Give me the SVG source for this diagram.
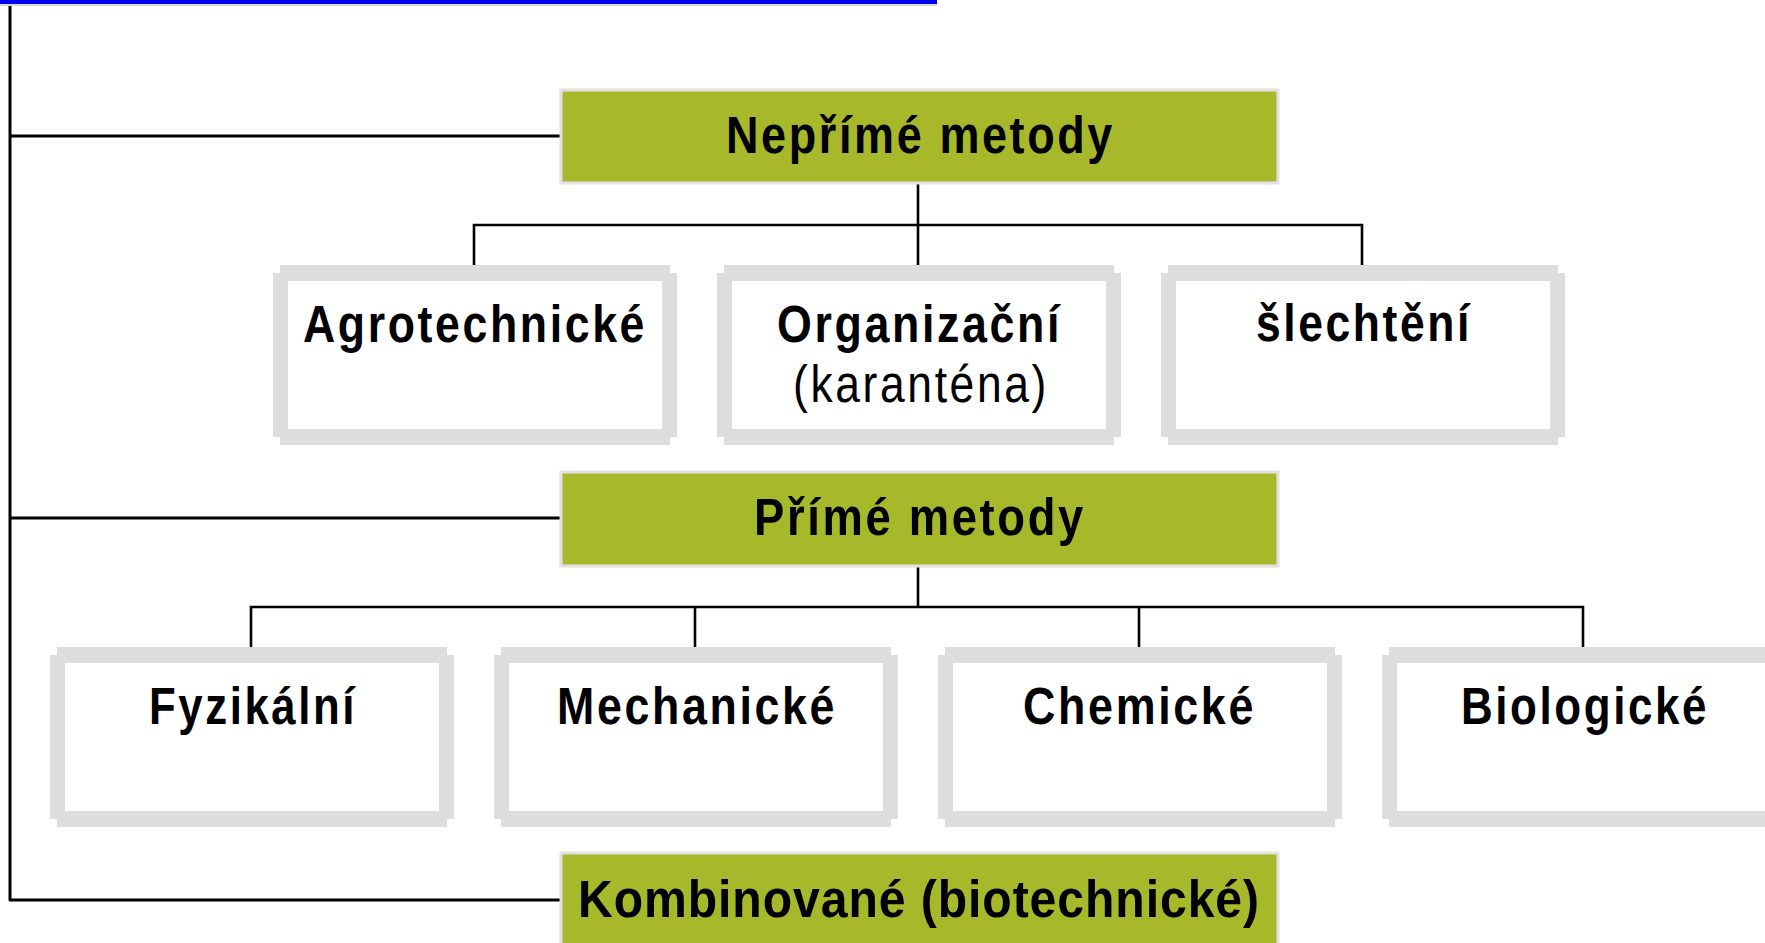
<svg xmlns="http://www.w3.org/2000/svg" xmlns:xlink="http://www.w3.org/1999/xlink" width="1765" height="943" viewBox="0 0 1765 943">
  <style>
    .bus { stroke: #000; stroke-width: 3; fill: none; stroke-linejoin: round; }
    .tree { stroke: #000; stroke-width: 2.6; fill: none; }
    .head { fill: #A7B82A; stroke: #E2E2E2; stroke-width: 3; }
    .frame { fill: #DDDDDD; fill-rule: evenodd; }
    .inner { fill: #FFFFFF; }
    .t { font-family: "Liberation Sans Narrow", "Liberation Sans", Arial, sans-serif; font-size: 51px; fill: #000; letter-spacing: 3px; }
    .b { font-weight: bold; }
    .k { letter-spacing: 1px; }
  </style>
  <defs>
    <path id="frame" class="frame" d="M7,0 H397 V8 H404 V172 H397 V180 H7 V172 H0 V8 H7 Z M15,16 V164 H389 V16 Z"/>
  </defs>
  <rect x="0" y="0" width="937" height="4" fill="#0000F0"/>
  <rect x="0" y="4" width="937" height="2" fill="#D8D8E8"/>

  <g id="connectors">
    <path class="bus" d="M10,6 V900 H561"/>
    <path class="bus" d="M10,136 H561"/>
    <path class="bus" d="M10,518 H561"/>
    <path class="tree" d="M918,183 V225 M474,265 V225 H1362 V265 M918,225 V265"/>
    <path class="tree" d="M918,566 V607 M251,647 V607 H1583 V647 M695,607 V647 M1139,607 V647"/>
  </g>

  <g id="neprime">
    <rect class="head" x="561" y="90" width="717" height="93"/>
    <text class="t b" x="726" y="153" textLength="389" lengthAdjust="spacingAndGlyphs">Nepřímé metody</text>
  </g>
  <g id="agrotechnicke">
    <rect class="inner" x="280" y="273" width="390" height="164"/>
    <use xlink:href="#frame" x="273" y="265"/>
    <text class="t b" x="303" y="342" textLength="344" lengthAdjust="spacingAndGlyphs">Agrotechnické</text>
  </g>
  <g id="organizacni">
    <rect class="inner" x="724" y="273" width="390" height="164"/>
    <use xlink:href="#frame" x="717" y="265"/>
    <text class="t b" x="777" y="342" textLength="285" lengthAdjust="spacingAndGlyphs">Organizační</text>
    <text class="t" x="793" y="402" textLength="256" lengthAdjust="spacingAndGlyphs">(karanténa)</text>
  </g>
  <g id="slechteni">
    <rect class="inner" x="1168" y="273" width="390" height="164"/>
    <use xlink:href="#frame" x="1161" y="265"/>
    <text class="t b" x="1256" y="341" textLength="216" lengthAdjust="spacingAndGlyphs">šlechtění</text>
  </g>

  <g id="prime">
    <rect class="head" x="561" y="472" width="717" height="94"/>
    <text class="t b" x="754" y="535" textLength="332" lengthAdjust="spacingAndGlyphs">Přímé metody</text>
  </g>
  <g id="fyzikalni">
    <rect class="inner" x="57" y="655" width="390" height="164"/>
    <use xlink:href="#frame" x="50" y="647"/>
    <text class="t b" x="149" y="724" textLength="208" lengthAdjust="spacingAndGlyphs">Fyzikální</text>
  </g>
  <g id="mechanicke">
    <rect class="inner" x="501" y="655" width="390" height="164"/>
    <use xlink:href="#frame" x="494" y="647"/>
    <text class="t b" x="557" y="724" textLength="280" lengthAdjust="spacingAndGlyphs">Mechanické</text>
  </g>
  <g id="chemicke">
    <rect class="inner" x="945" y="655" width="390" height="164"/>
    <use xlink:href="#frame" x="938" y="647"/>
    <text class="t b" x="1023" y="724" textLength="233" lengthAdjust="spacingAndGlyphs">Chemické</text>
  </g>
  <g id="biologicke">
    <rect class="inner" x="1389" y="655" width="390" height="164"/>
    <use xlink:href="#frame" x="1382" y="647"/>
    <text class="t b" x="1461" y="724" textLength="248" lengthAdjust="spacingAndGlyphs">Biologické</text>
  </g>

  <g id="kombinovane">
    <rect class="head" x="561" y="853" width="717" height="100"/>
    <text class="t b k" x="578" y="917" textLength="682" lengthAdjust="spacingAndGlyphs">Kombinované (biotechnické)</text>
  </g>
</svg>
